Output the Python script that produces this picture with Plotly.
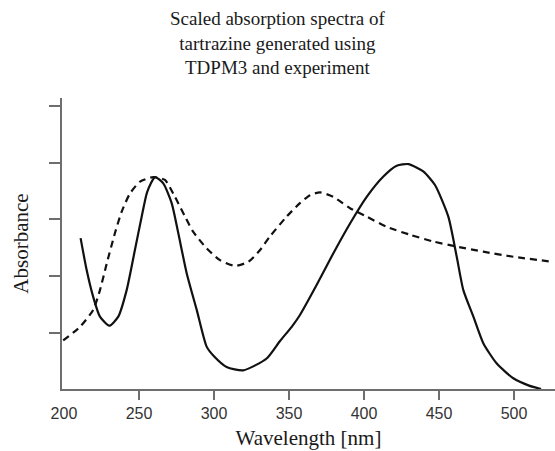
import plotly.graph_objects as go

# Wavelength (nm) and scaled absorbance
exp_wavelength = [211.1, 215.1, 219.5, 224.0, 230.2, 236.2, 241.8, 247.3, 251.8, 255.5,
                  260.7, 266.2, 271.8, 276.2, 281.8, 288.5, 295.1, 300.0, 308.4, 319.5,
                  335.1, 344.0, 351.8, 357.3, 368.4, 379.5, 390.7, 401.8, 412.9, 421.8,
                  429.6, 439.5, 447.3, 456.2, 461.8, 466.2, 472.9, 479.5, 488.5, 499.5,
                  510.0, 518.0]
exp_absorbance = [2.67, 2.11, 1.63, 1.28, 1.12, 1.28, 1.75, 2.46, 3.05, 3.49,
                  3.75, 3.64, 3.29, 2.76, 2.05, 1.40, 0.75, 0.58, 0.39, 0.33,
                  0.54, 0.85, 1.10, 1.31, 1.84, 2.40, 2.93, 3.40, 3.76, 3.95,
                  3.98, 3.85, 3.61, 3.05, 2.34, 1.75, 1.28, 0.81, 0.45, 0.19,
                  0.06, 0.0]

tdpm3_wavelength = [199.5, 210.7, 219.5, 224.0, 228.5, 234.0, 238.5, 244.0, 250.7, 259.5,
                    267.3, 274.0, 280.7, 286.2, 295.1, 304.0, 314.0, 322.9, 330.7, 337.3,
                    348.4, 357.3, 364.0, 370.7, 379.5, 390.7, 401.8, 415.1, 430.7, 446.2,
                    461.8, 479.5, 499.5, 526.2]
tdpm3_absorbance = [0.86, 1.10, 1.40, 1.75, 2.22, 2.76, 3.14, 3.46, 3.67, 3.75,
                    3.70, 3.40, 3.05, 2.78, 2.49, 2.28, 2.18, 2.25, 2.46, 2.70,
                    3.05, 3.29, 3.43, 3.48, 3.40, 3.20, 3.05, 2.87, 2.73, 2.61,
                    2.52, 2.43, 2.34, 2.25]

x_tick_values = [200, 250, 300, 350, 400, 450, 500]
x_tick_labels = ["200", "250", "300", "350", "400", "450", "500"]
y_tick_values = [1, 2, 3, 4, 5]

title_text = "Scaled absorption spectra of<br>tartrazine generated using<br>TDPM3 and experiment"

axis_color = "#6e6e6e"
serif = "Liberation Serif, Times New Roman, serif"

fig = go.Figure()
fig.add_trace(go.Scatter(x=exp_wavelength, y=exp_absorbance, mode="lines",
                         line=dict(color="#111111", width=2.2, shape="spline", smoothing=0.6),
                         showlegend=False, name="Experiment"))
fig.add_trace(go.Scatter(x=tdpm3_wavelength, y=tdpm3_absorbance, mode="lines",
                         line=dict(color="#111111", width=2.2, dash="7px,5px", shape="spline", smoothing=0.6),
                         showlegend=False, name="TDPM3"))
# invisible trace on overlay axis to draw tick marks
fig.add_trace(go.Scatter(x=[250, 500], y=[1, 1], xaxis="x2", mode="markers",
                         marker=dict(opacity=0), showlegend=False, hoverinfo="skip"))

xr = [198.7, 527.3]
fig.update_layout(
    width=555, height=451,
    margin=dict(l=62, r=0, t=98, b=62),
    paper_bgcolor="white", plot_bgcolor="white",
    annotations=[dict(text=title_text, xref="paper", yref="paper",
                      x=(277.5 - 62) / 493, y=1 + (98 - 43) / 291,
                      xanchor="center", yanchor="middle", showarrow=False, align="center",
                      font=dict(family=serif, size=19, color="#1a1a1a"))],
    xaxis=dict(range=xr, tickvals=x_tick_values, ticktext=x_tick_labels, ticks="",
               showline=True, linecolor=axis_color, linewidth=2, showgrid=False, zeroline=False,
               tickfont=dict(family="Liberation Sans, Arial, sans-serif", size=16, color="#333333"),
               ticklabelstandoff=9,
               title=dict(text="Wavelength [nm]", font=dict(family=serif, size=21, color="#1a1a1a"),
                          standoff=9)),
    xaxis2=dict(range=xr, overlaying="x", side="bottom", anchor="y", tickvals=x_tick_values[1:],
                ticks="outside", ticklen=10, tickwidth=1.5, tickcolor=axis_color,
                showticklabels=False, showgrid=False, zeroline=False, showline=False),
    yaxis=dict(range=[0, 5.15], tickvals=y_tick_values, ticks="outside", ticklen=11, tickwidth=1.5,
               tickcolor=axis_color, showticklabels=False, showline=True, linecolor=axis_color,
               linewidth=2, showgrid=False, zeroline=False,
               title=dict(text="Absorbance", font=dict(family=serif, size=21, color="#1a1a1a"),
                          standoff=15)),
)

fig.write_html("out.html")
